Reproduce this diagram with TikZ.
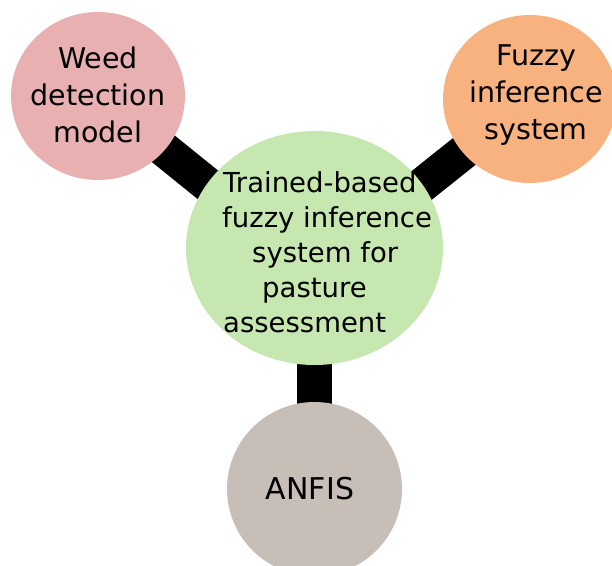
\documentclass[tikz,border=0pt]{standalone}
\usepackage{fontspec}
\setmainfont{DejaVu Sans}
\usetikzlibrary{shapes.geometric,backgrounds}
\definecolor{weedpink}{RGB}{232,176,176}
\definecolor{fuzzyorange}{RGB}{248,178,128}
\definecolor{hubgreen}{RGB}{198,232,176}
\definecolor{anfisgrey}{RGB}{200,190,184}
\tikzset{
  bubble/.style={ellipse,inner sep=0pt},
  bubbletext/.style={inner sep=0pt,align=center,font=\fontsize{28.5}{37}\selectfont},
  bar/.style={line width=35pt,black},
}
\begin{document}
\begin{tikzpicture}[x=1pt,y=-1pt]
\useasboundingbox (0,0) rectangle (612,565);
%\draw [help lines,step=50] (0,0) grid (612,565);
% the four bubbles
\node [bubble,fill=weedpink,minimum width=174pt,minimum height=168pt] (weed) at (98,96) {};
\node [bubble,fill=fuzzyorange,minimum width=174pt,minimum height=168pt] (fuzzy) at (530,99) {};
\node [bubble,fill=hubgreen,minimum width=257pt,minimum height=234pt] (hub) at (314.5,248) {};
\node [bubble,fill=anfisgrey,minimum width=175pt,minimum height=174pt] (anfis) at (314.5,489) {};
% texts
\node [bubbletext] (weedtext) at (98,95) {Weed\\detection\\model};
\node [bubbletext] (fuzzytext) at (536,95) {Fuzzy\\inference\\system};
\node [bubbletext,font=\fontsize{30}{37}\selectfont] (anfistext) at (310,489) {ANFIS};
\node [bubbletext,align=left,anchor=north west,font=\fontsize{27.5}{35}\selectfont] (hubtext) at (222,171)
  {\hspace*{1pt}Trained-based\\fuzzy inference\\\hspace*{30pt}system for\\\hspace*{40pt}pasture\\\hspace*{1pt}assessment};
% thick links, behind the bubbles
\coordinate (join) at (314.5,271);
\begin{scope}[on background layer]
\draw [bar] (weed.center) -- (join);
\draw [bar] (fuzzy.center) -- (join);
\draw [bar] (anfis.center) -- (join);
\end{scope}
\end{tikzpicture}
\end{document}
